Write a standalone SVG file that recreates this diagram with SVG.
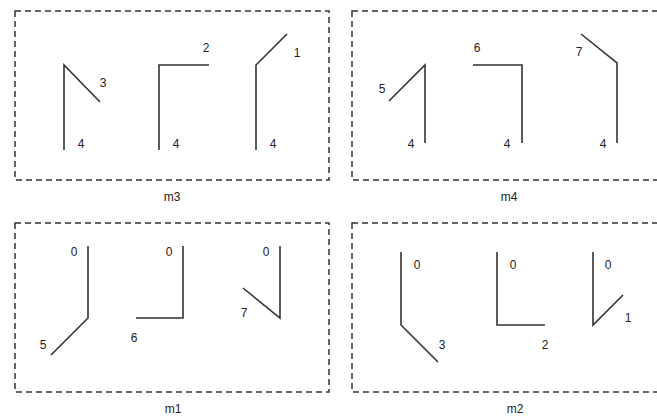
<svg xmlns="http://www.w3.org/2000/svg" width="657" height="420" viewBox="0 0 657 420">
<style>
.box{fill:none;stroke:#333;stroke-width:1.5;stroke-dasharray:6,4}
.ln{fill:none;stroke:#333;stroke-width:1.6;stroke-linejoin:miter}
text{font-family:"Liberation Sans",Arial,sans-serif;font-size:12px;fill:#222;text-anchor:middle}
</style>
<rect x="0" y="0" width="657" height="420" fill="#fff"/>
<g id="m3">
<rect class="box" x="15" y="11" width="314" height="169"/>
<text x="172" y="201">m3</text>
<g id="m3-a"><polyline class="ln" points="64,150 64,65 100,102"/><text x="103" y="87">3</text><text x="81" y="148">4</text></g>
<g id="m3-b"><polyline class="ln" points="159,150 159,65 209,65"/><text x="206" y="52">2</text><text x="176" y="148">4</text></g>
<g id="m3-c"><polyline class="ln" points="256,150 256,65 287,34"/><text x="297" y="57">1</text><text x="273" y="148">4</text></g>
</g>
<g id="m4">
<rect class="box" x="352" y="11" width="314" height="169"/>
<text x="509" y="201">m4</text>
<g id="m4-a"><polyline class="ln" points="425,143 425,65 389,101"/><text x="382" y="93">5</text><text x="411" y="148">4</text></g>
<g id="m4-b"><polyline class="ln" points="473,65 522,65 522,143"/><text x="477" y="52">6</text><text x="507" y="148">4</text></g>
<g id="m4-c"><polyline class="ln" points="617,143 617,63 581,34"/><text x="579" y="56">7</text><text x="603" y="148">4</text></g>
</g>
<g id="m1">
<rect class="box" x="15" y="223" width="314" height="169"/>
<text x="173" y="413">m1</text>
<g id="m1-a"><polyline class="ln" points="88,246 88,318 51,355"/><text x="74" y="256">0</text><text x="43" y="349">5</text></g>
<g id="m1-b"><polyline class="ln" points="183,246 183,318 136,318"/><text x="169" y="256">0</text><text x="134" y="342">6</text></g>
<g id="m1-c"><polyline class="ln" points="280,246 280,318 243,288"/><text x="266" y="256">0</text><text x="244" y="317">7</text></g>
</g>
<g id="m2">
<rect class="box" x="352" y="223" width="314" height="169"/>
<text x="515" y="413">m2</text>
<g id="m2-a"><polyline class="ln" points="401,252 401,325 438,362"/><text x="417" y="269">0</text><text x="442" y="349">3</text></g>
<g id="m2-b"><polyline class="ln" points="497,252 497,325 545,325"/><text x="513" y="269">0</text><text x="545" y="349">2</text></g>
<g id="m2-c"><polyline class="ln" points="593,252 593,325 623,295"/><text x="608" y="269">0</text><text x="628" y="322">1</text></g>
</g>
</svg>
